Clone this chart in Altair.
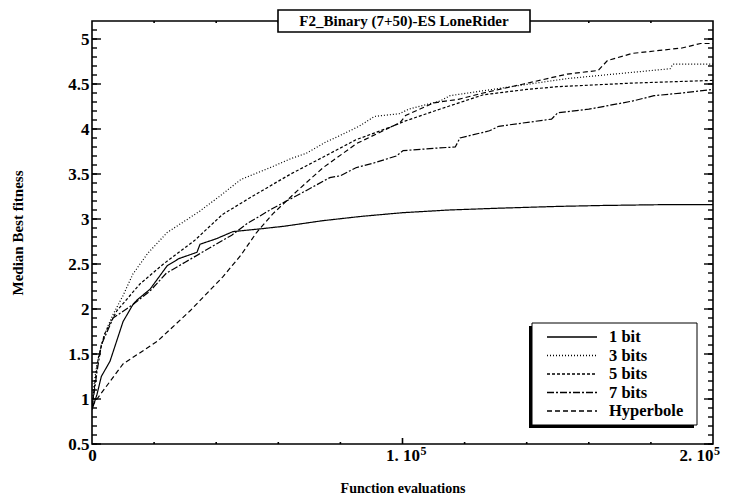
import altair as alt
import pandas as pd

# ---------------- data ----------------
series_names = ["1 bit", "3 bits", "5 bits", "7 bits", "Hyperbole"]

x_1bit = [0, 1600, 3000, 5800, 8000, 10000, 13200, 14500, 18700, 24200, 28000, 33800, 34800, 40000, 45400, 54100, 62000, 74000, 87000, 100000, 115000, 131000, 150000, 164000, 185000, 200000]
y_1bit = [0.88, 1.05, 1.25, 1.42, 1.65, 1.86, 2.05, 2.1, 2.22, 2.48, 2.56, 2.63, 2.72, 2.78, 2.86, 2.89, 2.92, 2.98, 3.03, 3.07, 3.1, 3.12, 3.14, 3.15, 3.16, 3.16]

x_3bits = [0, 800, 1600, 3000, 5000, 6800, 10000, 13200, 18000, 24200, 30000, 34800, 41000, 48000, 58000, 64000, 69000, 75000, 80000, 86000, 91000, 99000, 102000, 112000, 115300, 125000, 136900, 153000, 165000, 174200, 186200, 187100, 200000]
y_3bits = [0.9, 1.2, 1.39, 1.6, 1.8, 1.94, 2.15, 2.39, 2.62, 2.85, 2.98, 3.09, 3.25, 3.44, 3.58, 3.67, 3.73, 3.85, 3.93, 4.03, 4.14, 4.17, 4.22, 4.31, 4.37, 4.42, 4.48, 4.56, 4.6, 4.63, 4.67, 4.72, 4.72]

x_5bits = [0, 1000, 2000, 4000, 8000, 15500, 23000, 33000, 42000, 53000, 64000, 74000, 85000, 96000, 101000, 112000, 126000, 140000, 150000, 174000, 200000]
y_5bits = [0.9, 1.2, 1.45, 1.72, 1.98, 2.28, 2.5, 2.76, 3.05, 3.28, 3.5, 3.68, 3.88, 4.02, 4.09, 4.22, 4.38, 4.44, 4.47, 4.51, 4.54]

x_7bits = [0, 1600, 3000, 6800, 13200, 18700, 24000, 30000, 37000, 45000, 50000, 58300, 69200, 76600, 80000, 85000, 90500, 98000, 100200, 112000, 117000, 118500, 128000, 131000, 148000, 150000, 160000, 174000, 181000, 190000, 200000]
y_7bits = [0.9, 1.3, 1.6, 1.9, 2.05, 2.2, 2.4, 2.52, 2.66, 2.82, 2.95, 3.12, 3.32, 3.46, 3.48, 3.57, 3.62, 3.7, 3.76, 3.79, 3.8, 3.9, 3.98, 4.03, 4.11, 4.18, 4.22, 4.31, 4.37, 4.4, 4.44]

x_hyper = [0, 1600, 10000, 21000, 31600, 42200, 48000, 53000, 58300, 66000, 74400, 85300, 99200, 101000, 110000, 118000, 126000, 139000, 153000, 163000, 166000, 174000, 190000, 196000, 200000]
y_hyper = [0.92, 1.0, 1.39, 1.64, 1.98, 2.36, 2.6, 2.85, 3.06, 3.31, 3.57, 3.84, 4.07, 4.15, 4.29, 4.33, 4.4, 4.5, 4.61, 4.65, 4.76, 4.84, 4.9, 4.95, 4.95]

series_x = [x_1bit, x_3bits, x_5bits, x_7bits, x_hyper]
series_y = [y_1bit, y_3bits, y_5bits, y_7bits, y_hyper]

dash_styles = [[1, 0], [1, 2], [3, 2], [7, 2, 2, 2], [5, 3]]

y_major_ticks = [0.5, 1, 1.5, 2, 2.5, 3, 3.5, 4, 4.5, 5]
y_minor_ticks = [round(0.5 + 0.1 * i, 1) for i in range(47)]
x_major_ticks = [100000]
x_minor_ticks = [20000, 40000, 60000, 80000, 120000, 140000, 160000, 180000]
x_label_values = [0, 100000, 200000]
x_label_texts = ["0", "1. 10", "2. 10"]
x_label_exponent = ["", "5", "5"]

chart_title = "F2_Binary (7+50)-ES LoneRider"
x_title = "Function evaluations"
y_title = "Median Best fitness"

# ---------------- layout ----------------
W, H = 621, 423
FONT = "Liberation Serif"

rows = []
for name, xs, ys in zip(series_names, series_x, series_y):
    for i, (xv, yv) in enumerate(zip(xs, ys)):
        rows.append({"series": name, "evals": xv, "fitness": yv, "order": i})
df = pd.DataFrame(rows)

xscale = alt.Scale(domain=[0, 200000], nice=False, zero=False)
yscale = alt.Scale(domain=[0.5, 5.2], nice=False, zero=False)
dash_scale = alt.Scale(domain=series_names, range=dash_styles)

label_expr = " : ".join(
    [f"datum.value == {v} ? '{t}'" for v, t in zip(x_label_values[:-1], x_label_texts[:-1])]
    + [f"'{x_label_texts[-1]}'"]
)

xaxis = alt.Axis(values=x_label_values, ticks=False, domain=False, grid=False,
                 labelFont=FONT, labelFontSize=17, labelFontWeight="bold", labelColor="black",
                 labelPadding=3, labelExpr=label_expr,
                 labelAlign={"condition": {"test": "datum.value >= 200000", "value": "right"}, "value": "center"},
                 title=x_title, titleFont=FONT, titleFontSize=14, titleFontWeight="bold",
                 titleColor="black", titleY=44, titleBaseline="middle")
yaxis = alt.Axis(values=y_major_ticks, format="~g", ticks=False, domain=False, grid=False,
                 labelFont=FONT, labelFontSize=17, labelFontWeight="bold", labelColor="black",
                 labelPadding=3,
                 title=y_title, titleFont=FONT, titleFontSize=15, titleFontWeight="bold",
                 titleColor="black", titleX=-75, titleY=H / 2, titleAngle=-90,
                 titleAlign="center", titleBaseline="middle")

lines = alt.Chart(df).mark_line(color="black", strokeWidth=1.2, clip=True).encode(
    x=alt.X("evals:Q", scale=xscale, axis=xaxis),
    y=alt.Y("fitness:Q", scale=yscale, axis=yaxis),
    strokeDash=alt.StrokeDash("series:N", scale=dash_scale, legend=None),
    strokeWidth=alt.condition(alt.datum.series == "1 bit", alt.value(1.7), alt.value(1.3)),
    detail="series:N",
    order="order:Q",
)

def ydf(vals):
    return pd.DataFrame({"fitness": vals})

def xdf(vals):
    return pd.DataFrame({"evals": vals})

tick_layers = []
# left / right inward ticks
for vals, ln in [(y_minor_ticks, 5), (y_major_ticks, 9)]:
    tick_layers.append(alt.Chart(ydf(vals)).mark_rule(color="black", strokeWidth=1.4).encode(
        y=alt.Y("fitness:Q", scale=yscale, axis=yaxis), x=alt.value(0), x2=alt.value(ln)))
    tick_layers.append(alt.Chart(ydf(vals)).mark_rule(color="black", strokeWidth=1.4).encode(
        y=alt.Y("fitness:Q", scale=yscale, axis=yaxis), x=alt.value(W), x2=alt.value(W - ln)))
# bottom / top inward ticks
for vals, ln in [(x_minor_ticks, 2), (x_major_ticks, 6)]:
    tick_layers.append(alt.Chart(xdf(vals)).mark_rule(color="black", strokeWidth=1.6).encode(
        x=alt.X("evals:Q", scale=xscale, axis=xaxis), y=alt.value(H), y2=alt.value(H - ln)))
    tick_layers.append(alt.Chart(xdf(vals)).mark_rule(color="black", strokeWidth=1.6).encode(
        x=alt.X("evals:Q", scale=xscale, axis=xaxis), y=alt.value(0), y2=alt.value(ln)))

# exponent of the x tick labels ("10" to the 5)
exp_df = pd.DataFrame({"evals": x_label_values, "e": x_label_exponent})
exp_df = exp_df[exp_df["e"] != ""]
exp_mid = alt.Chart(exp_df[exp_df["evals"] < 200000]).mark_text(
    font=FONT, fontSize=12, fontWeight="bold", color="black", align="left", baseline="top",
    dx=18, dy=0).encode(x=alt.X("evals:Q", scale=xscale, axis=xaxis), y=alt.value(H + 2), text="e:N")
exp_end = alt.Chart(exp_df[exp_df["evals"] >= 200000]).mark_text(
    font=FONT, fontSize=12, fontWeight="bold", color="black", align="left", baseline="top",
    dx=1, dy=0).encode(x=alt.X("evals:Q", scale=xscale, axis=xaxis), y=alt.value(H + 2), text="e:N")

# title box
title_df = pd.DataFrame({"t": [chart_title]})
title_box = alt.Chart(title_df).mark_rect(fill="white", stroke="black", strokeWidth=1.6).encode(
    x=alt.value(186), x2=alt.value(438), y=alt.value(-11), y2=alt.value(11))
title_text = alt.Chart(title_df).mark_text(font=FONT, fontSize=15, fontWeight="bold", color="black",
                                           align="center", baseline="middle").encode(
    text="t:N", x=alt.value(312), y=alt.value(0))

# legend (drawn by hand)
LX0, LX1, LY0, LY1 = 440, 605, 302, 404
leg_df = pd.DataFrame({"series": series_names})
legend_layers = [
    alt.Chart(leg_df.head(1)).mark_rect(fill="black").encode(
        x=alt.value(LX0 - 3), x2=alt.value(LX1 - 3), y=alt.value(LY0 + 3), y2=alt.value(LY1 + 3)),
    alt.Chart(leg_df.head(1)).mark_rect(fill="white", stroke="black", strokeWidth=1).encode(
        x=alt.value(LX0), x2=alt.value(LX1), y=alt.value(LY0), y2=alt.value(LY1)),
]
for i, name in enumerate(series_names):
    ry = 316 + 18.5 * i
    one = pd.DataFrame({"series": [name]})
    legend_layers.append(alt.Chart(one).mark_rule(color="black", strokeWidth=1.7 if i == 0 else 1.3).encode(
        x=alt.value(455), x2=alt.value(505), y=alt.value(ry),
        strokeDash=alt.StrokeDash("series:N", scale=dash_scale, legend=None)))
    legend_layers.append(alt.Chart(one).mark_text(font=FONT, fontSize=16.5, fontWeight="bold", color="black",
                                                  align="left", baseline="middle").encode(
        text="series:N", x=alt.value(517), y=alt.value(ry)))

chart = alt.layer(lines, *tick_layers, exp_mid, exp_end, *legend_layers, title_box, title_text).properties(
    width=W, height=H,
    autosize=alt.AutoSizeParams(type="none"),
    padding={"left": 84, "top": 13, "right": 12, "bottom": 57},
    background="white",
).configure_view(stroke="black", strokeWidth=1.6)

chart.save("out.html", embed_options={"renderer": "svg", "actions": False})
